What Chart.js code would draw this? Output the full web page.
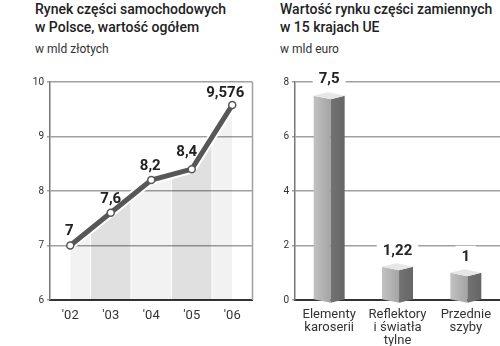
<!DOCTYPE html>
<html><head><meta charset="utf-8">
<script src="https://cdn.jsdelivr.net/npm/chart.js@4"></script>
<style>
html,body{margin:0;padding:0;background:#fff;}
#wrap{position:relative;width:500px;height:346px;overflow:hidden;font-family:Roboto,"Liberation Sans",sans-serif;color:#222;}
.t{position:absolute;font-size:14px;line-height:18px;font-weight:500;white-space:nowrap;}
.u{position:absolute;font-size:12px;color:#333;white-space:nowrap;}
canvas{position:absolute;top:0;}
</style></head><body>
<div id="wrap">
<div class="t" style="left:35px;top:0px">Rynek części samochodowych<br>w Polsce, wartość ogółem</div>
<div class="u" style="left:35px;top:42px">w mld złotych</div>
<div class="t" style="left:280px;top:0px">Wartość rynku części zamiennych<br>w 15 krajach UE</div>
<div class="u" style="left:280px;top:42px">w mld euro</div>
<canvas id="c1" width="258" height="346" style="left:0px;width:258px;height:346px"></canvas>
<canvas id="c2" width="242" height="346" style="left:258px;width:242px;height:346px"></canvas>
</div>
<script>
// ---- data ----
const years = ["'02", "'03", "'04", "'05", "'06"];
const marketPL = [7, 7.6, 8.2, 8.4, 9.576];
const plTicks = [6, 7, 8, 9, 10];
const partCategories = [["Elementy", "karoserii"], ["Reflektory", "i światła", "tylne"], ["Przednie", "szyby"]];
const partValuesEU = [7.5, 1.22, 1];
const euTicks = [0, 2, 4, 6, 8];

const fmt = v => String(v).replace('.', ',');
const FONT = 'Roboto, "Liberation Sans", sans-serif';

// ---- left chart ----
function bandFill(ctx) {
  const chart = ctx.chart, ca = chart.chartArea;
  if (!ca) return 'rgba(0,0,0,0)';
  const g = chart.ctx.createLinearGradient(ca.left, 0, ca.right, 0);
  const n = years.length, gap = 1 / (ca.right - ca.left);
  for (let i = 0; i < n; i++) {
    const s = i / n, e = (i + 1) / n;
    const c = i % 2 ? 'rgba(0,0,0,0.12)' : 'rgba(0,0,0,0.05)';
    g.addColorStop(s, 'rgba(0,0,0,0)');
    g.addColorStop(Math.min(s + gap, 1), c);
    g.addColorStop(Math.max(e - gap, 0), c);
    g.addColorStop(e, 'rgba(0,0,0,0)');
  }
  return g;
}

const lineLabels = {
  id: 'lineLabels',
  afterDatasetsDraw(chart, args, opts) {
    const ctx = chart.ctx, meta = chart.getDatasetMeta(1);
    ctx.save();
    ctx.font = 'bold 15px ' + FONT;
    ctx.fillStyle = '#222';
    ctx.textAlign = 'center';
    ctx.textBaseline = 'middle';
    meta.data.forEach((pt, i) => {
      const sh = opts.shift[i] || [0, -14];
      ctx.fillText(fmt(marketPL[i]), pt.x + sh[0], pt.y + sh[1]);
    });
    const ca = chart.chartArea;
    ctx.strokeStyle = '#a0a0a0';
    ctx.lineWidth = 1.5;
    ctx.beginPath(); ctx.moveTo(ca.right, ca.top); ctx.lineTo(ca.right, ca.bottom); ctx.stroke();
    ctx.restore();
  }
};

new Chart(document.getElementById('c1'), {
  type: 'line',
  data: {
    labels: years,
    datasets: [
      { data: marketPL, borderColor: '#ffffff', borderWidth: 9, pointRadius: 0, fill: 'start', backgroundColor: bandFill, order: 2, tension: 0 },
      { data: marketPL, borderColor: '#575757', borderWidth: 5, pointRadius: 3.5, pointBackgroundColor: '#fff', pointBorderColor: '#575757', pointBorderWidth: 1.5, fill: false, order: 1, tension: 0 }
    ]
  },
  options: {
    responsive: false, animation: false,
    layout: { padding: { top: 82, right: 3, left: 0, bottom: 0 } },
    plugins: { legend: { display: false }, tooltip: { enabled: false }, lineLabels: { shift: [[-1, -14], [0, -14], [-1, -14], [-5, -17], [-7, -12]] } },
    scales: {
      x: {
        offset: true,
        grid: { display: false, drawTicks: false },
        border: { color: '#333', width: 2 },
        ticks: { font: { family: FONT, size: 13 }, color: '#333', padding: 8 },
        afterFit: s => { s.height = 46; }
      },
      y: {
        min: plTicks[0], max: plTicks[plTicks.length - 1],
        ticks: { stepSize: plTicks[1] - plTicks[0], font: { family: FONT, size: 10 }, color: '#333', padding: 3 },
        grid: { color: '#a0a0a0', lineWidth: 1.5, tickLength: 3 },
        border: { color: '#777', width: 1.5 },
        afterFit: s => { s.width = 50; }
      }
    }
  },
  plugins: [lineLabels]
});

// ---- right chart ----
const box3d = {
  id: 'box3d',
  afterDatasetsDraw(chart) {
    const ctx = chart.ctx, meta = chart.getDatasetMeta(0);
    ctx.save();
    meta.data.forEach((bar, i) => {
      const p = bar.getProps(['x', 'y', 'base', 'width'], true);
      const x = p.x, y = p.y, base = p.base, w = p.width;
      const L = x - w / 2, R = x + w / 2, M = L + w * 0.55, d = 3.5;
      const B = L + (R - M);
      let g = ctx.createLinearGradient(L, 0, M, 0);
      g.addColorStop(0, '#c2c2c2'); g.addColorStop(1, '#a4a4a4');
      ctx.fillStyle = g;
      ctx.beginPath(); ctx.moveTo(L, y); ctx.lineTo(M, y + d); ctx.lineTo(M, base + d); ctx.lineTo(L, base); ctx.closePath(); ctx.fill();
      g = ctx.createLinearGradient(M, 0, R, 0);
      g.addColorStop(0, '#727272'); g.addColorStop(1, '#666');
      ctx.fillStyle = g;
      ctx.beginPath(); ctx.moveTo(M, y + d); ctx.lineTo(R, y); ctx.lineTo(R, base); ctx.lineTo(M, base + d); ctx.closePath(); ctx.fill();
      ctx.fillStyle = '#e6e6e6';
      ctx.beginPath(); ctx.moveTo(L, y); ctx.lineTo(B, y - d); ctx.lineTo(R, y); ctx.lineTo(M, y + d); ctx.closePath(); ctx.fill();
      const txt = fmt(partValuesEU[i]);
      ctx.font = 'bold 15px ' + FONT;
      const tw = ctx.measureText(txt).width;
      const ly = y - 16;
      ctx.fillStyle = '#fff';
      ctx.fillRect(x - tw / 2 - 6, ly - 11, tw + 12, 21);
      ctx.fillStyle = '#222';
      ctx.textAlign = 'center';
      ctx.textBaseline = 'middle';
      ctx.fillText(txt, x, ly);
    });
    ctx.restore();
  }
};

new Chart(document.getElementById('c2'), {
  type: 'bar',
  data: {
    labels: partCategories,
    datasets: [{ data: partValuesEU, backgroundColor: 'rgba(0,0,0,0)', barThickness: 31 }]
  },
  options: {
    responsive: false, animation: false,
    layout: { padding: { top: 82, right: 0, left: 0, bottom: 0 } },
    plugins: { legend: { display: false }, tooltip: { enabled: false } },
    scales: {
      x: {
        grid: { display: false, drawTicks: false },
        border: { color: '#333', width: 2 },
        ticks: { font: { family: FONT, size: 13, lineHeight: 1.0 }, color: '#333', padding: 8, maxRotation: 0, autoSkip: false },
        afterFit: s => { s.height = 46; }
      },
      y: {
        min: euTicks[0], max: euTicks[euTicks.length - 1],
        ticks: { stepSize: euTicks[1] - euTicks[0], font: { family: FONT, size: 10 }, color: '#333', padding: 3 },
        grid: { color: '#a0a0a0', lineWidth: 1.5, tickLength: 3 },
        border: { color: '#777', width: 1.5 },
        afterFit: s => { s.width = 37; }
      }
    }
  },
  plugins: [box3d]
});
</script>
</body></html>
